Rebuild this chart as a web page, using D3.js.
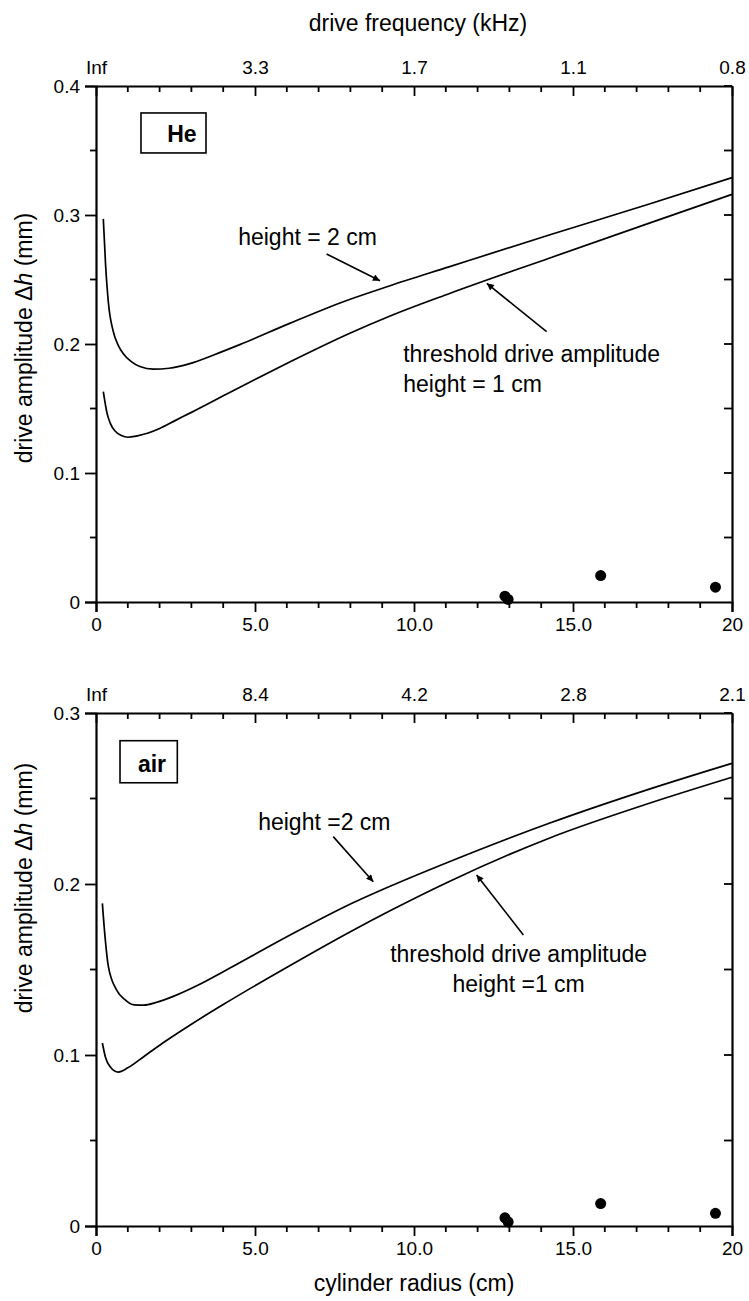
<!DOCTYPE html>
<html>
<head>
<meta charset="utf-8">
<script src="https://cdn.jsdelivr.net/npm/d3@7"></script>
<style>
  html, body { margin: 0; padding: 0; background: #fff; }
  svg { display: block; }
  text { font-family: "Liberation Sans", Arial, sans-serif; fill: #000; }
</style>
</head>
<body>
<svg id="chart" width="749" height="1301"></svg>
<script>
// ---------- data ----------
const xTicksMajor = [0, 5, 10, 15, 20];
const xTickLabels = ["0", "5.0", "10.0", "15.0", "20"];
const heFreqLabels = ["Inf", "3.3", "1.7", "1.1", "0.8"];
const airFreqLabels = ["Inf", "8.4", "4.2", "2.8", "2.1"];
const heYTicks = [0, 0.1, 0.2, 0.3, 0.4];
const heYLabels = ["0", "0.1", "0.2", "0.3", "0.4"];
const airYTicks = [0, 0.1, 0.2, 0.3];
const airYLabels = ["0", "0.1", "0.2", "0.3"];

// He, height = 2 cm
const he2R = [0.23, 0.30, 0.39, 0.54, 0.70, 0.86, 1.10, 1.38, 1.80, 2.30, 2.95, 3.70, 4.52, 6.09, 7.80, 9.20, 11.10, 14.25, 17.40, 20.0];
const he2Y = [0.297, 0.262, 0.232, 0.210, 0.199, 0.1925, 0.1865, 0.1825, 0.1805, 0.1812, 0.1848, 0.1915, 0.1995, 0.2160, 0.2330, 0.2448, 0.2598, 0.2845, 0.3085, 0.3290];
// He, threshold height = 1 cm
const he1R = [0.23, 0.35, 0.45, 0.60, 0.80, 1.00, 1.30, 1.64, 2.00, 2.50, 3.00, 4.00, 5.00, 6.09, 8.00, 9.23, 11.10, 14.25, 17.40, 20.0];
const he1Y = [0.163, 0.146, 0.1385, 0.1325, 0.1290, 0.1277, 0.1288, 0.1310, 0.1345, 0.1408, 0.1470, 0.1598, 0.1725, 0.1860, 0.2085, 0.2215, 0.2390, 0.2665, 0.2937, 0.3160];
// He measured points
const heDotR = [12.86, 12.96, 15.87, 19.48];
const heDotY = [0.0045, 0.0020, 0.0205, 0.0115];

// air, height = 2 cm
const air2R = [0.20, 0.28, 0.39, 0.65, 0.90, 1.20, 1.50, 1.90, 2.43, 3.20, 4.00, 6.09, 7.97, 9.23, 11.11, 14.25, 17.40, 20.0];
const air2Y = [0.1887, 0.1700, 0.1517, 0.1380, 0.1325, 0.1293, 0.1292, 0.1308, 0.1343, 0.1408, 0.1487, 0.1700, 0.1880, 0.1985, 0.2130, 0.2355, 0.2555, 0.2706];
// air, threshold height = 1 cm
const air1R = [0.20, 0.30, 0.45, 0.70, 1.00, 1.50, 2.10, 3.00, 4.00, 6.09, 7.97, 9.23, 11.11, 14.25, 17.40, 20.0];
const air1Y = [0.1070, 0.0985, 0.0930, 0.0900, 0.0925, 0.0990, 0.1070, 0.1180, 0.1295, 0.1522, 0.1718, 0.1842, 0.2015, 0.2268, 0.2472, 0.2624];
// air measured points
const airDotR = [12.86, 12.96, 15.87, 19.48];
const airDotY = [0.0048, 0.0024, 0.0131, 0.0074];

// ---------- layout ----------
const svg = d3.select("#chart");
const X0 = 96, X1 = 732;
const FONT_TICK = 19, FONT_LAB = 23;

const defs = svg.append("defs");
defs.append("marker")
  .attr("id", "arrow")
  .attr("viewBox", "0 0 10 10")
  .attr("refX", 10).attr("refY", 5)
  .attr("markerWidth", 9).attr("markerHeight", 7)
  .attr("markerUnits", "userSpaceOnUse")
  .attr("orient", "auto")
  .append("path").attr("d", "M0,0 L10,5 L0,10 Z").attr("fill", "#000");

function panel(cfg) {
  const x = d3.scaleLinear().domain([0, 20]).range([X0, X1]);
  const y = d3.scaleLinear().domain([0, cfg.ymax]).range([cfg.yB, cfg.yT]);
  const g = svg.append("g");

  const minorX = d3.range(0, 21, 1).filter(v => v % 5 !== 0);
  const minorY = d3.range(0, cfg.ymax + 1e-9, 0.05).filter(v => Math.round(v * 100) % 10 !== 0);
  const allY = d3.range(0.05, cfg.ymax + 1e-9, 0.05);

  // bottom axis (ticks outward)
  const bottom = g.append("g").attr("transform", `translate(0,${cfg.yB})`)
    .call(d3.axisBottom(x).tickValues(xTicksMajor).tickSize(10)
      .tickFormat((d, i) => xTickLabels[i]).tickPadding(6));
  bottom.append("g").selectAll("line").data(minorX).join("line")
    .attr("x1", d => x(d)).attr("x2", d => x(d)).attr("y1", 0).attr("y2", 6);

  // top axis (ticks inward)
  const top = g.append("g").attr("transform", `translate(0,${cfg.yT})`)
    .call(d3.axisTop(x).tickValues(xTicksMajor).tickSizeInner(-10).tickSizeOuter(0)
      .tickFormat((d, i) => cfg.freq[i]).tickPadding(0));
  top.selectAll(".tick text").attr("y", -12).attr("dy", 0);
  top.append("g").selectAll("line").data(minorX).join("line")
    .attr("x1", d => x(d)).attr("x2", d => x(d)).attr("y1", 0).attr("y2", 6);

  // left axis (ticks outward)
  const left = g.append("g").attr("transform", `translate(${X0},0)`)
    .call(d3.axisLeft(y).tickValues(cfg.yTicks).tickSize(11)
      .tickFormat((d, i) => cfg.yLabels[i]).tickPadding(5));
  left.append("g").selectAll("line").data(minorY).join("line")
    .attr("y1", d => y(d)).attr("y2", d => y(d)).attr("x1", 0).attr("x2", -6);

  // right axis (ticks inward)
  const right = g.append("g").attr("transform", `translate(${X1},0)`)
    .call(d3.axisRight(y).tickValues([]).tickSizeOuter(0));
  right.append("g").selectAll("line").data(allY).join("line")
    .attr("y1", d => y(d)).attr("y2", d => y(d)).attr("x1", 0).attr("x2", -8);

  g.selectAll(".domain").attr("stroke", "#000").attr("stroke-width", 2.2);
  g.selectAll("line").attr("stroke", "#000").attr("stroke-width", 1.8);
  g.selectAll(".tick text").attr("font-size", FONT_TICK)
    .attr("font-family", '"Liberation Sans", Arial, sans-serif').attr("fill", "#000");

  // curves
  const line = d3.line().x(d => x(d[0])).y(d => y(d[1])).curve(d3.curveMonotoneX);
  cfg.curves.forEach(c => {
    g.append("path").datum(c.r.map((r, i) => [r, c.y[i]]))
      .attr("d", line).attr("fill", "none").attr("stroke", "#000").attr("stroke-width", 1.7);
  });

  // dots
  g.append("g").selectAll("circle").data(cfg.dotR.map((r, i) => [r, cfg.dotY[i]])).join("circle")
    .attr("cx", d => x(d[0])).attr("cy", d => y(d[1])).attr("r", 5.5).attr("fill", "#000");

  // gas label box
  const b = cfg.box;
  g.append("rect").attr("x", x(b.r0)).attr("y", y(b.y1))
    .attr("width", x(b.r1) - x(b.r0)).attr("height", y(b.y0) - y(b.y1))
    .attr("fill", "#fff").attr("stroke", "#000").attr("stroke-width", 1.6);
  g.append("text").attr("x", x(b.tr)).attr("y", y(b.ty)).attr("text-anchor", "middle")
    .attr("font-size", FONT_LAB).attr("font-weight", "bold").text(b.text);

  // annotations
  cfg.texts.forEach(t => {
    g.append("text").attr("x", x(t.r)).attr("y", y(t.y))
      .attr("text-anchor", t.anchor || "start").attr("font-size", FONT_LAB).text(t.s);
  });
  cfg.arrows.forEach(a => {
    g.append("line").attr("x1", x(a[0])).attr("y1", y(a[1])).attr("x2", x(a[2])).attr("y2", y(a[3]))
      .attr("stroke", "#000").attr("stroke-width", 1.6).attr("marker-end", "url(#arrow)");
  });

  // y label
  const yl = g.append("text").attr("text-anchor", "middle").attr("font-size", FONT_LAB)
    .attr("transform", `translate(32,${cfg.ylabC}) rotate(-90)`);
  yl.append("tspan").text("drive amplitude Δ");
  yl.append("tspan").attr("font-style", "italic").text("h");
  yl.append("tspan").text(" (mm)");
  return { x, y };
}

panel({
  yT: 86, yB: 602, ymax: 0.4, freq: heFreqLabels, yTicks: heYTicks, yLabels: heYLabels,
  curves: [{ r: he2R, y: he2Y }, { r: he1R, y: he1Y }],
  dotR: heDotR, dotY: heDotY,
  box: { r0: 1.415, r1: 3.459, y0: 0.3481, y1: 0.3791, tr: 2.70, ty: 0.3566, text: "He" },
  texts: [
    { r: 4.47, y: 0.2767, s: "height = 2 cm" },
    { r: 9.66, y: 0.1863, s: "threshold drive amplitude" },
    { r: 9.66, y: 0.1630, s: "height = 1 cm" }
  ],
  arrows: [[7.25, 0.2698, 8.93, 0.2491], [14.17, 0.2095, 12.29, 0.2470]],
  ylabC: 338
});

panel({
  yT: 713, yB: 1226, ymax: 0.3, freq: airFreqLabels, yTicks: airYTicks, yLabels: airYLabels,
  curves: [{ r: air2R, y: air2Y }, { r: air1R, y: air1Y }],
  dotR: airDotR, dotY: airDotY,
  box: { r0: 0.755, r1: 2.557, y0: 0.2592, y1: 0.2838, tr: 1.76, ty: 0.2655, text: "air" },
  texts: [
    { r: 5.10, y: 0.2316, s: "height =2 cm" },
    { r: 13.29, y: 0.1546, s: "threshold drive amplitude", anchor: "middle" },
    { r: 13.29, y: 0.1370, s: "height =1 cm", anchor: "middle" }
  ],
  arrows: [[7.46, 0.2277, 8.72, 0.2013], [13.44, 0.1702, 11.97, 0.2053]],
  ylabC: 888
});

// axis titles
svg.append("text").attr("x", 418).attr("y", 31).attr("text-anchor", "middle")
  .attr("font-size", FONT_LAB).text("drive frequency (kHz)");
svg.append("text").attr("x", 414).attr("y", 1291).attr("text-anchor", "middle")
  .attr("font-size", FONT_LAB).text("cylinder radius (cm)");
</script>
</body>
</html>
